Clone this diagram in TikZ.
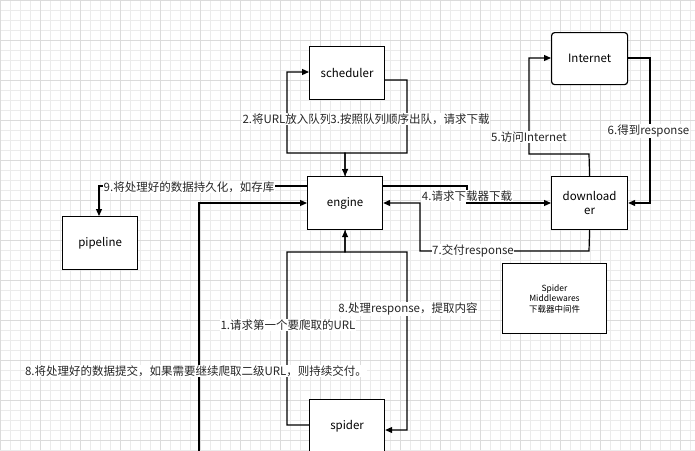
\documentclass[tikz,border=0pt]{standalone}
\usepackage{fontspec}
\setmainfont{Noto Sans CJK SC}
\usetikzlibrary{arrows.meta}
\begin{document}
\begin{tikzpicture}[x=1pt,y=-1pt,
  box/.style={draw,line width=1.2pt,fill=white,minimum width=75pt,minimum height=53pt,anchor=north west,font=\fontsize{11.5}{14}\selectfont,inner sep=0pt},
  lab/.style={fill=white,inner sep=0.5pt,font=\fontsize{11.5}{13}\selectfont,text=black!85},
  con/.style={line width=1.2pt,-{Triangle[length=7pt,width=6pt]}},
  ln/.style={line width=1.2pt}]
\useasboundingbox (0,0) rectangle (695,450);
\begin{scope}
\clip (0,0) rectangle (695,450);
\fill[white] (0,0) rectangle (695,450);
\draw[black!8,line width=0.5pt,step=10pt] (0,0) grid (695,450);
\draw[black!14,line width=0.7pt,step=40pt] (0,0) grid (695,450);

\node[box] (sch) at (309,46) {scheduler};
\node[box,rounded corners=3pt,minimum width=76pt,minimum height=52pt] (int) at (551,32) {Internet};
\node[box] (eng) at (307,176) {engine};
\node[box,minimum width=76pt,align=center] (dl) at (551,176) {download\\er};
\node[box] (pip) at (62,216) {pipeline};
\node[box] (spi) at (309,399) {spider};
\node[box,line width=1pt,minimum width=104pt,minimum height=70pt,align=center,font=\fontsize{8.5}{10.5}\selectfont] (mw) at (502,263) {Spider\\Middlewares\\下载器中间件};

\coordinate (s8) at (199,470);

% 2 and 3
\draw[con] (eng.north) -- (345,153) -- (287,153) -- (287,72) -- (sch.west |- 0,72);
\draw[con] (sch.east |- 0,80) -- (407,80) -- (407,153) -- (345,153) -- (eng.north);
\node[lab] at (287,119) {2.将URL放入队列};
\node[lab] at (410,119) {3.按照队列顺序出队，请求下载};
% 4
\draw[con] (eng.east |- 0,186) -- (467,186) -- (467,203) -- (dl.west |- 0,203);
\node[lab] at (467,196) {4.请求下载器下载};
% 7
\draw[con] (dl.south) -- (589,251) -- (420,251) -- (420,203) -- (eng.east |- 0,203);
\node[lab] at (473,251) {7.交付response};
% 5
\draw[con] (dl.north) -- (589,154) -- (529,154) -- (529,58) -- (int.west |- 0,58);
\node[lab] at (529,137) {5.访问Internet};
% 6
\draw[con] (int.east |- 0,58) -- (650,58) -- (650,203) -- (dl.east |- 0,203);
\node[lab,anchor=west] at (607,131) {6.得到response};
% 9
\draw[con] (eng.west |- 0,186) -- (99,186) -- (pip.north -| 99,0);
\node[lab] at (189,187) {9.将处理好的数据持久化，如存库};
% 1
\draw[con] (spi.west |- 0,425) -- (287,425) -- (287,252) -- (345,252) -- (eng.south);
\node[lab] at (288,325) {1.请求第一个要爬取的URL};
% 8
\draw[con] (eng.south) -- (345,252) -- (407,252) -- (407,430) -- (spi.east |- 0,430);
\node[lab] at (408,309) {8.处理response，提取内容};
% 8 second
\draw[con] (s8) -- (199,203) -- (eng.west |- 0,203);
\node[lab] at (196,371) {8.将处理好的数据提交，如果需要继续爬取二级URL，则持续交付。};
\end{scope}
\end{tikzpicture}
\end{document}
